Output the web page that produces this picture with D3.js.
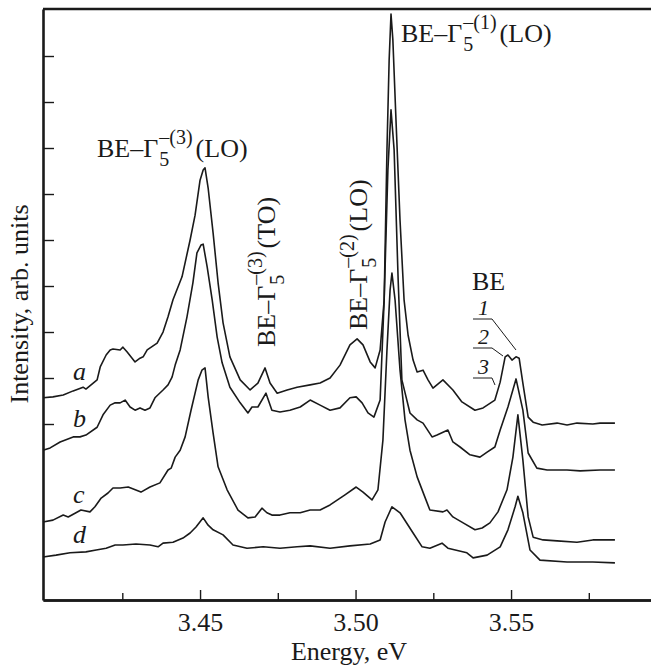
<!DOCTYPE html>
<html>
<head>
<meta charset="utf-8">
<script src="https://cdn.jsdelivr.net/npm/d3@7"></script>
<style>
  body { margin: 0; background: #fff; }
  text { font-family: "Liberation Serif", "Times New Roman", serif; fill: #1a1a1a; }
</style>
</head>
<body>
<div id="chart"></div>
<script>
var svgWidth = 651;
var svgHeight = 667;

var margin = { top: 9, right: 0, bottom: 67, left: 43 };

// spectra: [energy (eV), intensity (arb. units, offset included)]
var curveA = [[3.3995,45.7],[3.4027,45.9],[3.4060,46.3],[3.4092,47.2],[3.4124,48.0],[3.4133,47.6],[3.4169,49.6],[3.4179,52.4],[3.4198,55.0],[3.4211,56.1],[3.4220,56.3],[3.4243,56.1],[3.4252,56.7],[3.4265,55.7],[3.4291,53.5],[3.4307,54.3],[3.4317,54.6],[3.4330,56.1],[3.4362,57.6],[3.4381,60.0],[3.4397,63.3],[3.4413,67.0],[3.4442,72.0],[3.4468,80.0],[3.4484,85.4],[3.4500,93.0],[3.4510,95.2],[3.4516,95.7],[3.4526,91.3],[3.4542,81.5],[3.4558,70.7],[3.4574,62.0],[3.4596,54.6],[3.4629,49.6],[3.4661,47.4],[3.4686,48.9],[3.4709,52.2],[3.4725,48.9],[3.4748,46.7],[3.4780,47.4],[3.4812,48.0],[3.4854,48.5],[3.4886,48.9],[3.4918,50.0],[3.4950,52.8],[3.4982,57.2],[3.5005,58.5],[3.5024,57.2],[3.5047,53.5],[3.5063,52.2],[3.5079,56.1],[3.5092,67.0],[3.5101,99.6],[3.5108,119.1],[3.5114,129.1],[3.5120,123.5],[3.5130,106.1],[3.5143,84.3],[3.5156,67.0],[3.5169,59.3],[3.5185,53.9],[3.5198,51.3],[3.5217,51.7],[3.5233,49.6],[3.5249,47.8],[3.5281,49.6],[3.5313,47.4],[3.5342,44.8],[3.5384,43.0],[3.5410,43.5],[3.5448,45.2],[3.5465,49.1],[3.5481,54.6],[3.5490,55.0],[3.5503,53.9],[3.5516,54.6],[3.5526,54.3],[3.5538,48.9],[3.5555,41.5],[3.5571,40.4],[3.5600,39.8],[3.5648,40.2],[3.5680,39.8],[3.5712,40.2],[3.5763,40.0],[3.5786,40.2],[3.5834,40.2]];

var curveB = [[3.3995,34.3],[3.4018,34.8],[3.4050,36.1],[3.4092,37.2],[3.4114,37.2],[3.4133,37.6],[3.4169,39.3],[3.4188,42.0],[3.4211,44.1],[3.4227,44.6],[3.4243,44.6],[3.4259,45.2],[3.4275,43.7],[3.4291,43.0],[3.4307,43.5],[3.4323,43.0],[3.4339,43.5],[3.4355,45.7],[3.4381,47.4],[3.4397,48.5],[3.4410,50.2],[3.4420,52.8],[3.4436,56.1],[3.4458,63.3],[3.4477,70.7],[3.4490,77.2],[3.4503,78.9],[3.4510,79.1],[3.4523,74.1],[3.4539,67.0],[3.4555,58.9],[3.4571,53.3],[3.4596,48.0],[3.4629,44.6],[3.4654,42.4],[3.4667,43.7],[3.4686,43.7],[3.4712,46.7],[3.4731,43.0],[3.4757,42.6],[3.4789,43.0],[3.4822,43.7],[3.4854,45.2],[3.4886,44.1],[3.4918,43.0],[3.4950,43.5],[3.4982,45.7],[3.5002,45.9],[3.5021,44.6],[3.5040,42.4],[3.5059,41.5],[3.5079,45.2],[3.5092,67.0],[3.5104,95.2],[3.5114,108.3],[3.5124,99.6],[3.5137,71.3],[3.5149,49.6],[3.5175,42.4],[3.5198,40.9],[3.5217,40.2],[3.5246,37.2],[3.5262,37.6],[3.5297,38.7],[3.5313,36.1],[3.5336,35.0],[3.5368,33.3],[3.5400,32.8],[3.5423,33.9],[3.5448,35.0],[3.5465,38.7],[3.5490,43.7],[3.5516,49.8],[3.5538,43.0],[3.5555,33.7],[3.5583,30.4],[3.5616,30.0],[3.5680,30.0],[3.5722,29.8],[3.5786,30.0],[3.5834,30.0]];

var curveC = [[3.3995,18.7],[3.4027,19.1],[3.4060,20.2],[3.4076,19.8],[3.4101,20.7],[3.4117,21.3],[3.4146,20.9],[3.4162,22.0],[3.4182,23.9],[3.4204,25.0],[3.4220,26.1],[3.4243,26.1],[3.4269,26.3],[3.4310,25.2],[3.4339,26.3],[3.4371,27.2],[3.4397,30.0],[3.4407,30.4],[3.4420,32.8],[3.4436,34.3],[3.4452,37.2],[3.4471,43.0],[3.4494,49.6],[3.4506,51.7],[3.4516,52.2],[3.4526,45.9],[3.4542,38.0],[3.4558,30.7],[3.4587,25.7],[3.4622,21.3],[3.4654,19.6],[3.4677,19.8],[3.4699,21.7],[3.4715,20.7],[3.4731,20.2],[3.4757,20.2],[3.4789,20.7],[3.4822,20.7],[3.4854,21.3],[3.4886,21.3],[3.4918,22.4],[3.4966,24.6],[3.5002,26.3],[3.5024,25.2],[3.5053,23.5],[3.5072,25.7],[3.5088,36.5],[3.5101,56.1],[3.5111,69.1],[3.5117,72.8],[3.5127,67.0],[3.5143,51.7],[3.5159,40.9],[3.5175,34.3],[3.5198,28.5],[3.5223,24.1],[3.5239,21.3],[3.5281,20.9],[3.5294,21.3],[3.5313,19.8],[3.5346,18.5],[3.5384,17.0],[3.5407,17.4],[3.5432,18.5],[3.5458,20.9],[3.5487,25.7],[3.5506,32.8],[3.5522,42.0],[3.5538,32.2],[3.5555,19.8],[3.5571,15.4],[3.5603,14.8],[3.5648,14.6],[3.5712,14.3],[3.5763,14.8],[3.5834,14.8]];

var curveD = [[3.3995,11.1],[3.4037,11.5],[3.4082,12.0],[3.4133,12.2],[3.4166,12.6],[3.4198,13.0],[3.4227,13.7],[3.4252,13.7],[3.4294,13.9],[3.4339,13.7],[3.4365,13.3],[3.4381,14.1],[3.4413,14.3],[3.4445,15.2],[3.4468,16.3],[3.4487,17.6],[3.4510,19.6],[3.4526,18.0],[3.4542,17.0],[3.4574,15.9],[3.4606,13.7],[3.4651,13.0],[3.4703,13.3],[3.4757,13.0],[3.4812,13.3],[3.4854,13.5],[3.4918,13.0],[3.4982,13.5],[3.5047,13.9],[3.5079,14.8],[3.5095,18.7],[3.5117,22.0],[3.5143,20.7],[3.5185,16.3],[3.5214,13.3],[3.5239,13.0],[3.5278,14.1],[3.5297,13.0],[3.5358,12.0],[3.5378,10.9],[3.5423,11.5],[3.5465,13.3],[3.5490,17.0],[3.5513,22.0],[3.5522,24.3],[3.5538,20.7],[3.5561,12.6],[3.5593,10.4],[3.5680,10.0],[3.5763,10.0],[3.5834,9.8]];

var curveNames = ["a", "b", "c", "d"];
var curves = [curveA, curveB, curveC, curveD];

var xMajorTicks = [3.45, 3.50, 3.55];
var xMinorTicks = [3.425, 3.475, 3.525, 3.575];
var yTicks = [40, 50, 60, 70, 80, 90, 100, 110, 120];
var beLines = ["1", "2", "3"];

var width = svgWidth - margin.left - margin.right;
var height = svgHeight - margin.top - margin.bottom;

var svg = d3.select("#chart")
  .append("svg")
  .attr("width", svgWidth)
  .attr("height", svgHeight)
  .style("background", "#fff");

var chartGroup = svg.append("g")
  .attr("transform", `translate(${margin.left}, ${margin.top})`);

var xScale = d3.scaleLinear()
  .domain([3.3995, 3.595])
  .range([0, width]);

var yScale = d3.scaleLinear()
  .domain([1.739, 130.22])
  .range([height, 0]);

// axes
var bottomAxis = d3.axisBottom(xScale)
  .tickValues(xMajorTicks)
  .tickSizeInner(-10)
  .tickSizeOuter(0)
  .tickPadding(13)
  .tickFormat(d3.format(".2f"));

var minorAxis = d3.axisBottom(xScale)
  .tickValues(xMinorTicks)
  .tickSizeInner(-7)
  .tickSizeOuter(0)
  .tickFormat("");

var leftAxis = d3.axisLeft(yScale)
  .tickValues(yTicks)
  .tickSizeInner(-11)
  .tickSizeOuter(0)
  .tickFormat("");

var xg = chartGroup.append("g")
  .attr("transform", `translate(0, ${height})`)
  .call(bottomAxis);
xg.selectAll("text")
  .style("font-size", "26px")
  .style("font-family", "Liberation Serif, serif")
  .attr("fill", "#1a1a1a");

var xm = chartGroup.append("g")
  .attr("transform", `translate(0, ${height})`)
  .call(minorAxis);

var yg = chartGroup.append("g")
  .call(leftAxis);

chartGroup.selectAll(".domain")
  .attr("stroke", "#1a1a1a")
  .attr("stroke-width", 2.6);
chartGroup.selectAll(".tick line")
  .attr("stroke", "#1a1a1a")
  .attr("stroke-width", 1.4);

// top frame line
chartGroup.append("line")
  .attr("x1", 0).attr("x2", width)
  .attr("y1", 0).attr("y2", 0)
  .attr("stroke", "#1a1a1a")
  .attr("stroke-width", 2.6);

// spectra
var line = d3.line()
  .x(d => xScale(d[0]))
  .y(d => yScale(d[1]));

chartGroup.selectAll(".spectrum")
  .data(curves)
  .enter()
  .append("path")
  .attr("class", "spectrum")
  .attr("d", line)
  .attr("fill", "none")
  .attr("stroke", "#1a1a1a")
  .attr("stroke-width", 1.6)
  .attr("stroke-linejoin", "round");

// curve letters
var letterY = [380, 427, 503, 543];
chartGroup.selectAll(".letter")
  .data(curveNames)
  .enter()
  .append("text")
  .attr("class", "letter")
  .attr("x", 73 - margin.left)
  .attr("y", (d, i) => letterY[i] - margin.top)
  .style("font-size", "26px")
  .style("font-style", "italic")
  .text(d => d);

// peak labels  BE–Γ5^{–(n)}(XX)
function peakLabel(x, y, rot, sup, tail) {
  var g = svg.append("g")
    .attr("transform", `translate(${x}, ${y}) rotate(${rot})`);
  var t1 = g.append("text").attr("x", 0).attr("y", 0)
    .style("font-size", "26px").text("BE–Γ");
  var w = t1.node().getComputedTextLength() + 1;
  var s1 = g.append("text").attr("x", w).attr("y", 9)
    .style("font-size", "20px").text("5");
  var s2 = g.append("text").attr("x", w).attr("y", -13)
    .style("font-size", "20px").text("–(" + sup + ")");
  w += Math.max(s1.node().getComputedTextLength(), s2.node().getComputedTextLength()) + 3;
  g.append("text").attr("x", w).attr("y", 0)
    .style("font-size", "26px").text("(" + tail + ")");
}

peakLabel(97, 157, 0, "3", "LO");
peakLabel(401, 42, 0, "1", "LO");
peakLabel(275, 347, -90, "3", "TO");
peakLabel(367, 330, -90, "2", "LO");

// BE doublet markers
svg.append("text")
  .attr("x", 472).attr("y", 290)
  .style("font-size", "26px")
  .text("BE");

var markY = [315, 344, 374];
var markTo = [[516, 350], [503, 356], [495, 385]];
beLines.forEach(function(n, i) {
  svg.append("text")
    .attr("x", 478).attr("y", markY[i])
    .style("font-size", "22px")
    .style("font-style", "italic")
    .text(n);
  svg.append("polyline")
    .attr("points", `473,${markY[i] + 4} 492,${markY[i] + 4} ${markTo[i][0]},${markTo[i][1]}`)
    .attr("fill", "none")
    .attr("stroke", "#1a1a1a")
    .attr("stroke-width", 1);
});

// axis titles
svg.append("text")
  .attr("transform", `translate(28, ${304}) rotate(-90)`)
  .style("text-anchor", "middle")
  .style("font-size", "26px")
  .text("Intensity, arb. units");

svg.append("text")
  .attr("x", 349).attr("y", 660)
  .style("text-anchor", "middle")
  .style("font-size", "26px")
  .text("Energy, eV");
</script>
</body>
</html>
